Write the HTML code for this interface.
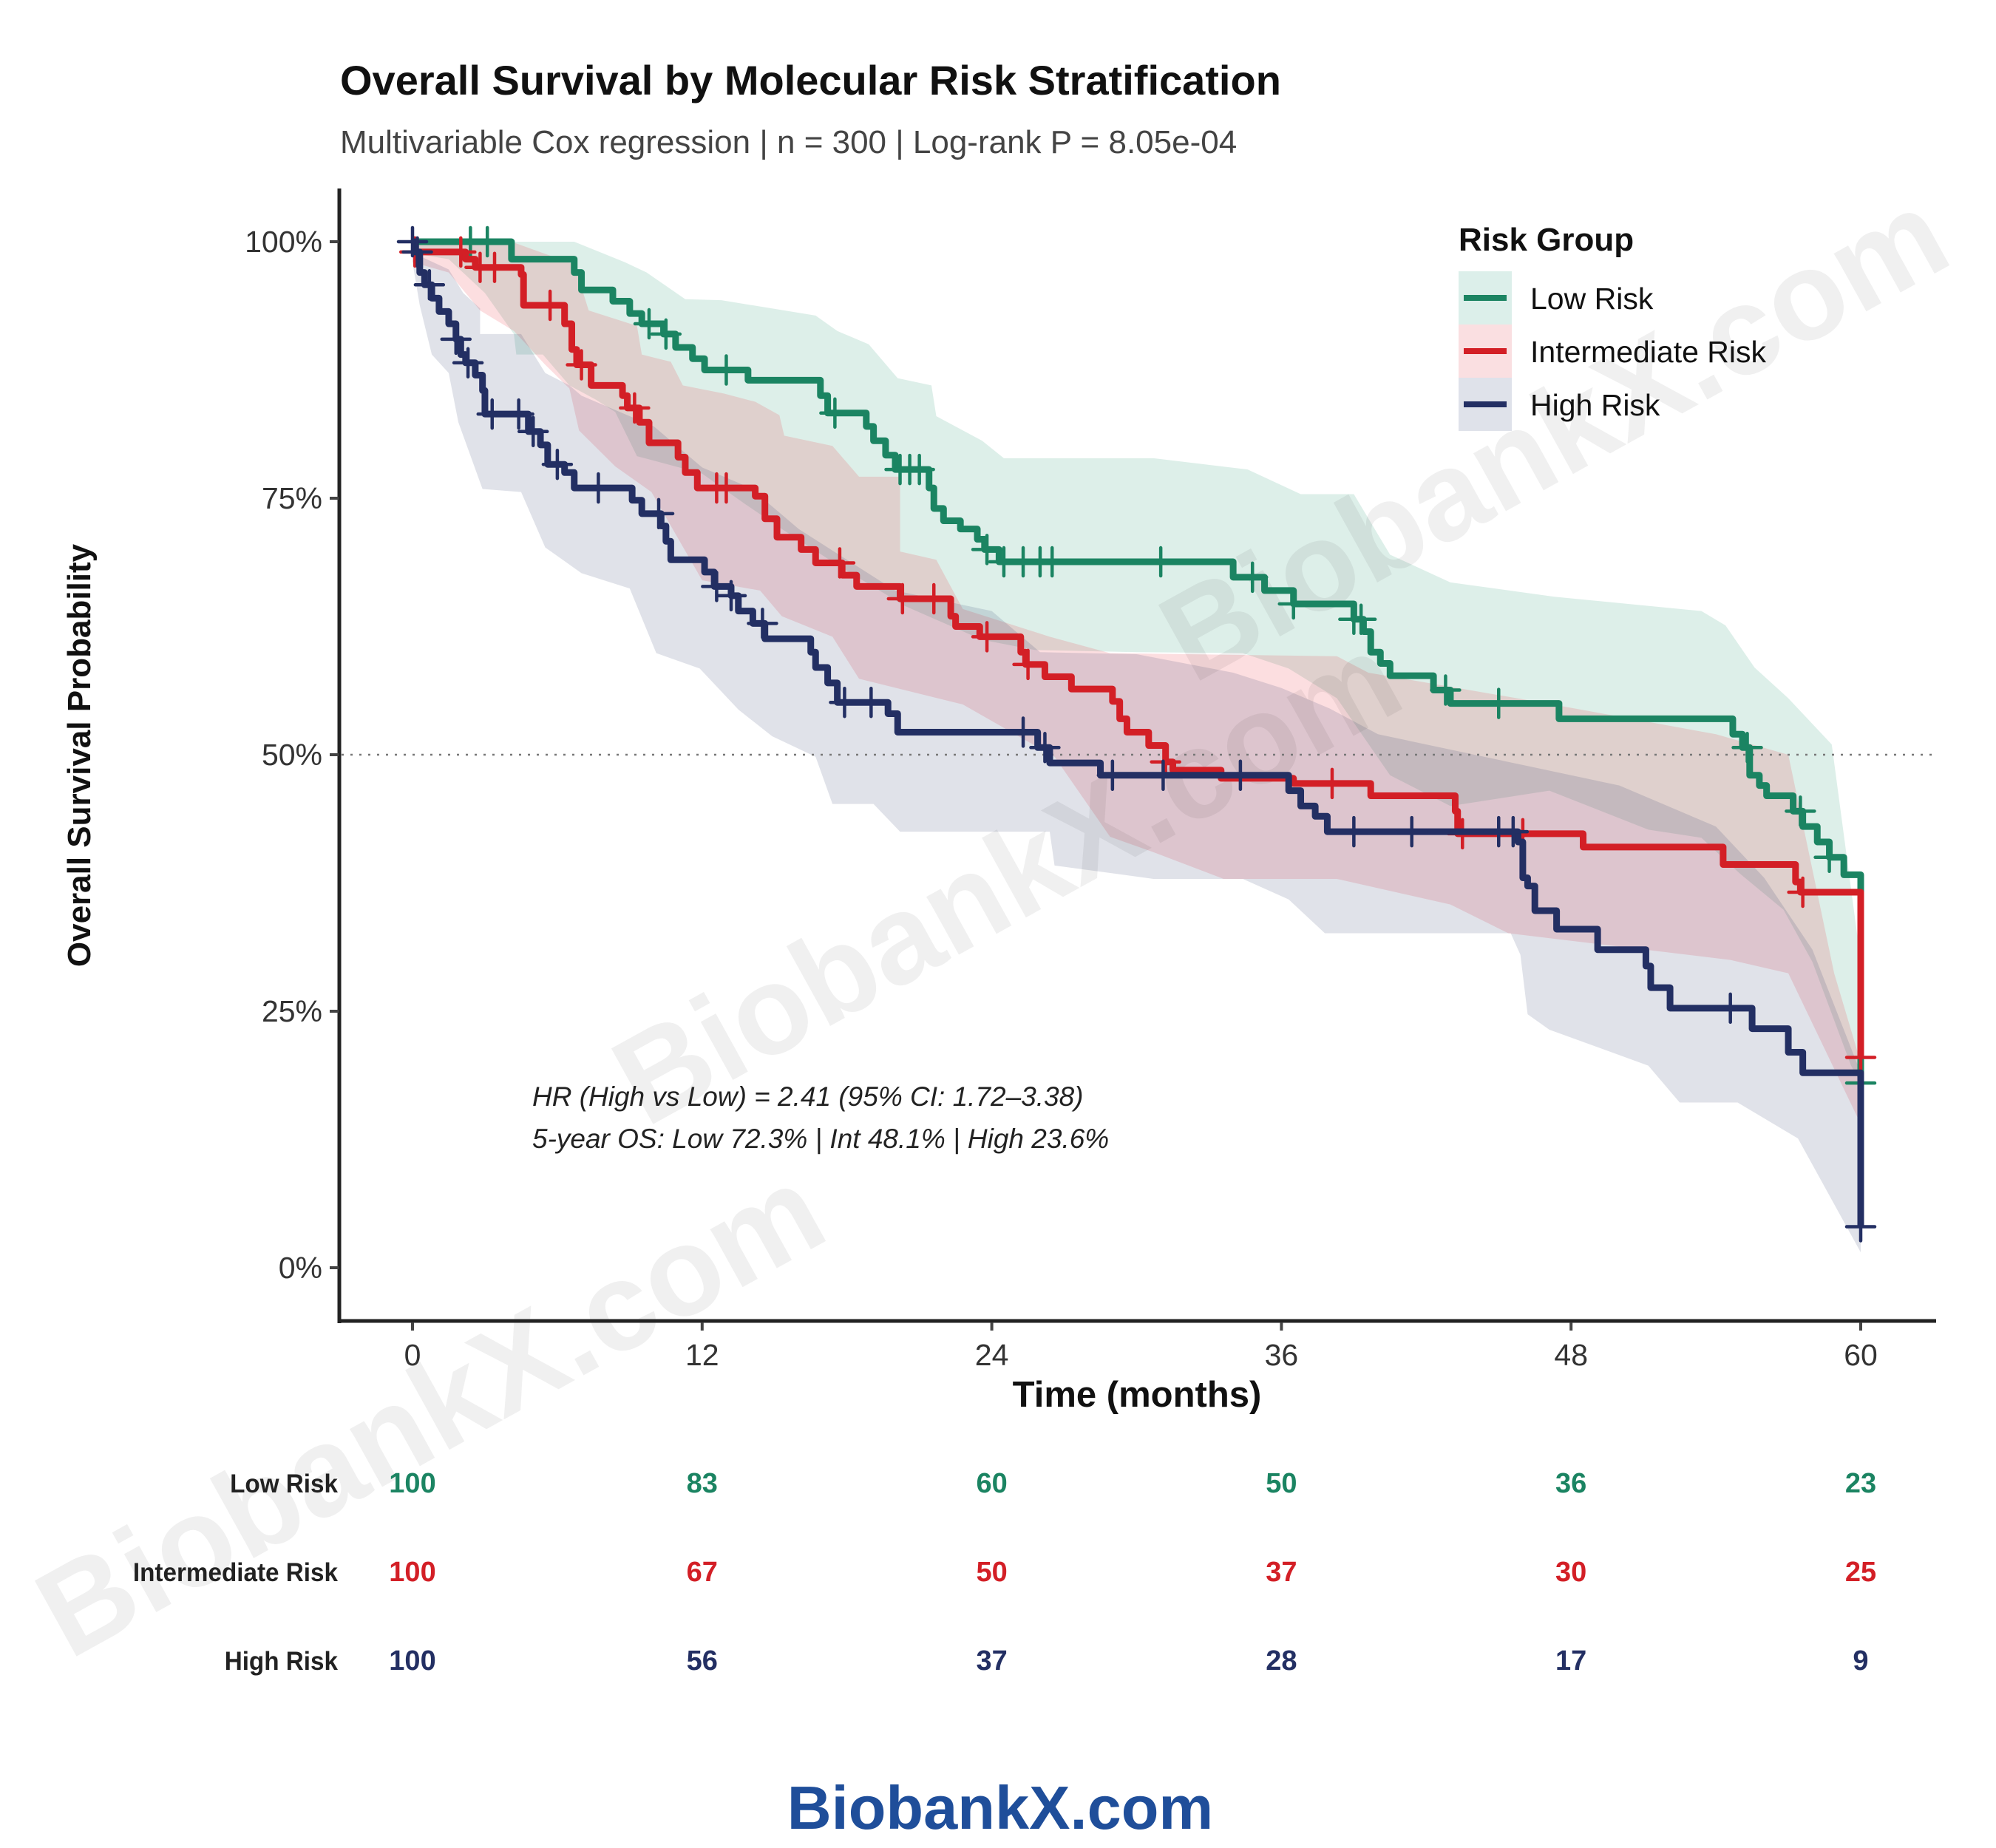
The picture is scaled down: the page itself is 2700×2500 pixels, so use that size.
<!DOCTYPE html>
<html><head><meta charset="utf-8">
<style>
html,body{margin:0;padding:0;background:#fff;}
svg{display:block;font-family:"Liberation Sans",sans-serif;}
</style></head>
<body>
<svg id="s" width="2700" height="2500" viewBox="0 0 2700 2500" xmlns="http://www.w3.org/2000/svg">
<rect width="2700" height="2500" fill="#fff"/>
<g id="bands"></g>
<g id="wm" fill="#000" fill-opacity="0.06" font-weight="bold" font-size="170">
<text x="1390" y="1240" text-anchor="middle" transform="rotate(-29 1390 1240)">BiobankX.com</text>
<text x="2130" y="640" text-anchor="middle" transform="rotate(-29 2130 640)">BiobankX.com</text>
<text x="610" y="1960" text-anchor="middle" transform="rotate(-29 610 1960)">BiobankX.com</text>
</g>
<line x1="462" y1="1021" x2="2617" y2="1021" stroke="#777" stroke-width="2.5" stroke-dasharray="3,9"/>
<g id="curves"></g>
<line x1="459" y1="255" x2="459" y2="1790" stroke="#222" stroke-width="5"/>
<line x1="457" y1="1787" x2="2619" y2="1787" stroke="#222" stroke-width="5"/>
<g id="ticks" stroke="#444" stroke-width="4"></g>
<g font-size="41" fill="#333" text-anchor="end" id="ylab"></g>
<g font-size="41" fill="#333" text-anchor="middle" id="xlab"></g>
<text x="460" y="128" font-size="56" font-weight="bold" fill="#111">Overall Survival by Molecular Risk Stratification</text>
<text x="460" y="207" font-size="44" fill="#444">Multivariable Cox regression | n = 300 | Log-rank P = 8.05e-04</text>
<text transform="translate(122 1022) rotate(-90)" text-anchor="middle" font-size="44" font-weight="bold" fill="#111">Overall Survival Probability</text>
<text x="1538" y="1903" text-anchor="middle" font-size="49" font-weight="bold" fill="#111">Time (months)</text>
<g font-size="37" font-style="italic" fill="#222">
<text x="720" y="1496">HR (High vs Low) = 2.41 (95% CI: 1.72–3.38)</text>
<text x="720" y="1553">5-year OS: Low 72.3% | Int 48.1% | High 23.6%</text>
</g>
<text x="1973" y="339" font-size="44" font-weight="bold" fill="#111">Risk Group</text>
<rect x="1973" y="367" width="72" height="72" fill="#dcefea"/>
<rect x="1973" y="439" width="72" height="72" fill="#fadfe1"/>
<rect x="1973" y="511" width="72" height="72" fill="#dfe2ea"/>
<line x1="1980" y1="403" x2="2038" y2="403" stroke="#1b8462" stroke-width="8"/>
<line x1="1980" y1="475" x2="2038" y2="475" stroke="#d31f26" stroke-width="8"/>
<line x1="1980" y1="547" x2="2038" y2="547" stroke="#232f63" stroke-width="8"/>
<g font-size="41" fill="#111">
<text x="2070" y="418">Low Risk</text>
<text x="2070" y="490">Intermediate Risk</text>
<text x="2070" y="562">High Risk</text>
</g>
<g font-size="35" font-weight="bold" fill="#222" text-anchor="end" transform="translate(457 0) scale(0.95 1) translate(-457 0)">
<text x="457" y="2019">Low Risk</text>
<text x="457" y="2139">Intermediate Risk</text>
<text x="457" y="2259">High Risk</text>
</g>
<g id="rt" font-size="38" font-weight="bold" text-anchor="middle"></g>
<text x="1353" y="2474" text-anchor="middle" font-size="83" font-weight="bold" fill="#1f4e9a">BiobankX.com</text>
</svg>
<script>
var NS="http://www.w3.org/2000/svg";
function X(t){return 558+t*32.65;}
function Y(p){return 1715-p*13.88;}
function el(tag,attrs,parent){var e=document.createElementNS(NS,tag);for(var k in attrs)e.setAttribute(k,attrs[k]);document.getElementById(parent).appendChild(e);return e;}
[0,25,50,75,100].forEach(function(p){el("line",{x1:446,y1:Y(p),x2:458,y2:Y(p)},"ticks");var t=el("text",{x:436,y:Y(p)+14},"ylab");t.textContent=p+"%";});
[0,12,24,36,48,60].forEach(function(m){el("line",{x1:X(m),y1:1789,x2:X(m),y2:1800},"ticks");var t=el("text",{x:X(m),y:1847},"xlab");t.textContent=m;});
var cols={g:"#1b8462",r:"#d31f26",b:"#232f63"};
var fills={g:"rgba(27,150,110,0.15)",r:"rgba(235,60,70,0.17)",b:"rgba(35,47,99,0.14)"};
function band(up,lo,c){var d="M";up.forEach(function(p,i){d+=(i?"L":"")+X(p[0])+","+Y(p[1]);});for(var i=lo.length-1;i>=0;i--)d+="L"+X(lo[i][0])+","+Y(lo[i][1]);d+="Z";el("path",{d:d,fill:fills[c]},"bands");}
band([[0,100],[6.7,100],[8.8,98],[9.7,97],[11.3,94.4],[12.8,94.3],[16.7,92.8],[17.6,91.3],[18.9,90],[20.1,86.7],[21.5,86],[21.7,83],[23.6,80.6],[24.5,78.9],[30.7,78.9],[34.6,77.8],[36.8,75.4],[39,75.4],[40.5,69.5],[43,66.8],[47.3,65.4],[53.4,64],[54.4,62.6],[55.6,58.5],[57,55.5],[58.8,51],[59.8,33.4],[60,30]],
[[0,100],[0.2,98.8],[1.5,98.3],[3,95],[4.2,91],[4.3,89],[5.4,89],[6.5,86],[7.6,84.6],[8.4,83.4],[9.3,79.1],[12,77.4],[13.8,74.4],[15.3,72],[17.6,68.5],[20.4,64.5],[23.6,61.2],[25.8,60.2],[30,60],[34.4,59.9],[36.3,58.4],[38.3,55.5],[40.5,48],[43,45],[47.1,46.5],[51.2,42.7],[53.4,41.9],[55,38.4],[56.8,34.9],[58,29.8],[59.6,19.7],[60,18]],"g");
band([[0,100],[4.1,100],[6.7,97.8],[7.3,93.3],[9.3,91.8],[9.5,89],[10.7,88.3],[11.2,86],[12.9,85.2],[14.2,84.4],[15.2,83.1],[15.4,81.1],[17.4,80.1],[18.5,77.1],[20.2,77.1],[20.2,69.8],[21.7,69],[22.8,64.2],[26.4,61.5],[28.9,59.9],[38.3,59.6],[39.6,58],[47,55],[54,52],[57,50],[58.9,28.7],[60,20]],
[[0,98],[1.5,97],[2.8,93.3],[4.2,91.3],[5.5,88],[6.5,85.7],[6.9,81.6],[8.4,78.1],[9.9,75.6],[12,67],[14.4,66],[15.3,63.5],[17.4,61.5],[18.5,57.4],[22.8,54.9],[26.6,49.8],[28.9,42],[30.7,40.5],[33.6,37.9],[38.3,37.9],[43,35.4],[45.4,32.6],[54.6,30],[57,28.7],[60,14]],"r");
band([[0,100],[0.3,98.6],[1.5,97.3],[2.1,95],[2.8,93.5],[2.8,91],[4.5,91],[5.5,87.2],[6.5,86],[7,85],[8,84],[10,82],[12,78],[14,76],[16,72],[18,69],[20,66],[24,64],[26,60],[30,59.8],[34,58],[36,56.5],[38,54.5],[40,52],[44,50],[46,49],[48,48],[50,47],[52,45],[54,43],[56,38],[58,31],[60,19]],
[[0,98],[0.3,93.8],[0.8,89],[1.5,87.2],[1.9,82.4],[2.9,75.9],[4.5,75.6],[5.5,70.2],[7,67.7],[9,66.2],[10.1,59.9],[11.9,58.4],[13.5,54.4],[14.9,51.8],[16.7,49.8],[17.4,45.2],[19.1,45.2],[20.2,42.5],[26.4,42.5],[26.6,39.2],[30.7,37.9],[34.4,37.9],[36.3,35.9],[37.8,32.6],[45.5,32.6],[45.9,30.5],[46.2,24.7],[47.1,23.2],[51.2,19.7],[52.5,16.1],[54.9,16.1],[57.4,12.6],[60,1.5]],"b");
var G=[[0,100],[4.1,98.3],[6.7,97],[7,95.3],[8.3,94.2],[9,93],[9.5,92],[10.4,91],[10.9,89.7],[11.6,88.6],[12.1,87.5],[13.9,86.5],[16.9,85],[17.2,83.3],[18.8,82],[19.1,80.6],[19.6,79.2],[20,77.8],[21.4,76],[21.6,74],[22,72.8],[22.7,72],[23.4,71],[23.7,70],[24.3,68.8],[34,67.3],[35.3,66],[36.5,64.7],[39,63.2],[39.4,62],[39.7,60],[40.1,58.9],[40.5,57.7],[42.3,56.3],[43,55],[47.5,53.5],[54.7,52],[55.1,50.7],[55.4,48],[55.8,47],[56.1,46],[57.2,44.5],[57.6,43],[58.2,41.5],[58.7,40],[59.3,38.3],[60,18]];
var R=[[0,99],[2.2,98.3],[2.6,97.5],[4.5,96.8],[4.6,93.8],[6.3,92],[6.6,89.5],[6.8,88],[7.4,86],[8.7,85],[8.9,83.8],[9.4,82.4],[9.8,80.4],[11,79],[11.3,77.5],[11.8,76],[14.2,75.2],[14.6,73],[15.1,71.2],[16.1,70],[16.7,68.7],[17.8,67.5],[18.4,66.4],[20.2,65.2],[22.3,63.5],[22.5,62.5],[23.5,61.5],[25.2,60],[25.4,58.8],[26.2,57.6],[27.3,56.4],[29,55.2],[29.3,53.5],[29.6,52.2],[30.5,50.9],[31.2,49.3],[31.5,48.5],[33.5,47.7],[36.5,47.2],[39.7,46],[43.2,44.5],[43.3,42.3],[48.5,41],[54.3,39.3],[57.3,37.6],[57.5,36.6],[60,20.5]];
var B=[[0,100],[0.1,99],[0.3,97],[0.5,95.8],[0.8,94.5],[1.1,93.2],[1.5,92],[1.8,90.5],[2,89],[2.2,88.2],[2.6,87],[2.9,85.5],[3,83.2],[4.8,81.5],[5.3,80.2],[5.6,78.3],[6.3,77.5],[6.7,76],[9.1,74.8],[9.5,73.5],[10.3,72.3],[10.5,70.8],[10.7,69],[12.1,67.8],[12.5,66.4],[13.2,65.5],[13.5,64],[14.1,62.8],[14.6,61.3],[16.5,60],[16.7,58.5],[17.2,57],[17.6,55.1],[19.7,54],[20.1,52.2],[25.9,50.7],[26.4,49.2],[28.5,48],[36.3,46.5],[36.8,45],[37.4,44],[37.9,42.5],[45.8,41.5],[46,38],[46.2,37.2],[46.5,34.8],[47.4,33],[49.1,31],[51.1,29.4],[51.3,27.3],[52.1,25.3],[55.5,23.3],[57,21],[57.6,19],[60,4]];
function sv(data,t){var v=data[0][1];for(var i=0;i<data.length;i++){if(data[i][0]<=t)v=data[i][1];}return v;}
function curve(data,c,cens){var d="M"+X(data[0][0])+","+Y(data[0][1]);for(var i=1;i<data.length;i++){d+="H"+X(data[i][0])+"V"+Y(data[i][1]);}
el("path",{d:d,fill:"none",stroke:cols[c],"stroke-width":9,"stroke-linejoin":"round"},"curves");
cens.forEach(function(t){var x=X(t),y=Y(sv(data,t));el("path",{d:"M"+(x-19)+","+y+"H"+(x+19)+"M"+x+","+(y-19)+"V"+(y+19),stroke:cols[c],"stroke-width":4.5,fill:"none","stroke-linecap":"round"},"curves");});}
curve(G,"g",[2.4,3.1,9.8,10.5,13,17.5,20.2,20.6,21,23.8,24.5,25.3,26,26.5,31,34.8,36.5,39,39.3,42.8,45,55.3,57.5,58.7,60]);
curve(R,"r",[0.1,2,2.8,3.4,5.7,7,9.2,12.6,13,17.7,20.3,21.6,23.8,25.5,31.2,38.1,43.5,46,57.6,60]);
curve(B,"b",[0,0.2,0.7,1.8,2.3,3.3,4.4,5,6,7.7,10.2,12.6,13.2,14.5,17.9,19,25.3,26.2,29,31.1,34.3,39,41.4,45,45.6,54.6,60]);
var rt={g:[100,83,60,50,36,23],r:[100,67,50,37,30,25],b:[100,56,37,28,17,9]};var ys={g:2019,r:2139,b:2259};
["g","r","b"].forEach(function(c){rt[c].forEach(function(n,i){var t=el("text",{x:X(i*12),y:ys[c],fill:cols[c]},"rt");t.textContent=n;});});
</script>
</body></html>
